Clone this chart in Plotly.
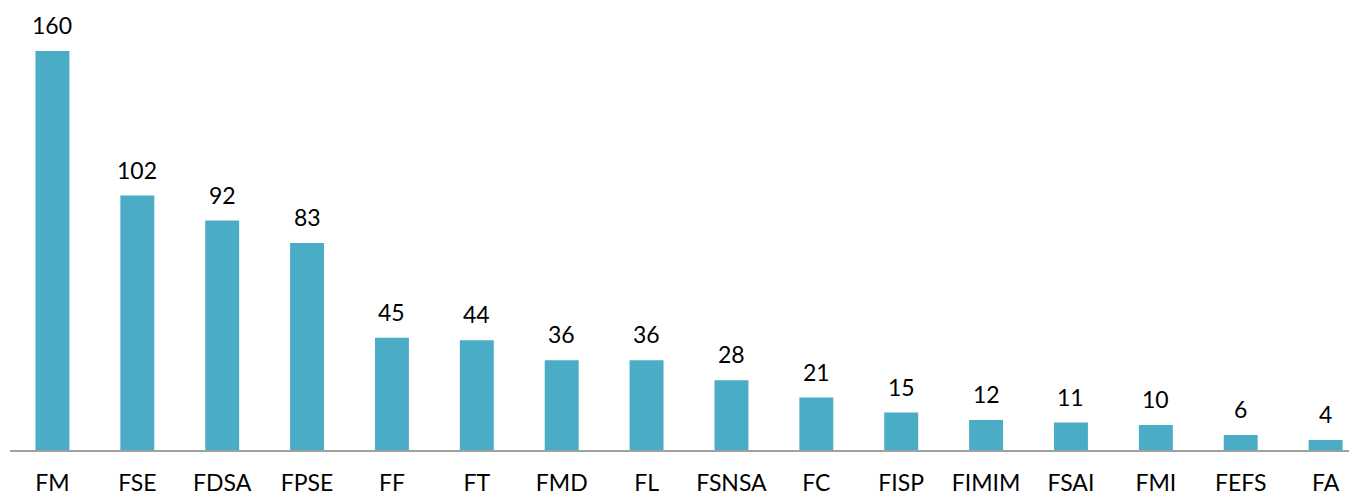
import plotly.graph_objects as go

categories = ["FM", "FSE", "FDSA", "FPSE", "FF", "FT", "FMD", "FL",
              "FSNSA", "FC", "FISP", "FIMIM", "FSAI", "FMI", "FEFS", "FA"]
counts = [160, 102, 92, 83, 45, 44, 36, 36, 28, 21, 15, 12, 11, 10, 6, 4]

bar_color = "#4BACC6"

fig = go.Figure(go.Bar(x=categories, y=counts, marker_color=bar_color,
                       marker_line_width=0, width=0.4))

# value labels above each bar
for c, v in zip(categories, counts):
    fig.add_annotation(x=c, y=v, text=str(v), showarrow=False,
                       yanchor="bottom", yshift=10,
                       font=dict(family="Lato", size=23, color="#000000"))

# page body has an 8px margin, so the figure is sized to fit inside the window
fig.update_layout(
    width=1349, height=487,
    margin=dict(l=1.5, r=0, t=0, b=45, autoexpand=False),
    plot_bgcolor="white", paper_bgcolor="white",
    showlegend=False,
    font=dict(family="Lato", size=23, color="#000000"),
)
fig.update_xaxes(range=[-0.5, 15.37], showline=True, linecolor="#A0A0A0",
                 linewidth=1.5, ticks="", ticklabelstandoff=12,
                 showgrid=False, zeroline=False, automargin=False,
                 tickfont=dict(family="Lato", size=23, color="#000000"))
fig.update_yaxes(range=[0, 177.2], showgrid=False, zeroline=False,
                 showticklabels=False, showline=False, automargin=False)

fig.write_html("out.html")
